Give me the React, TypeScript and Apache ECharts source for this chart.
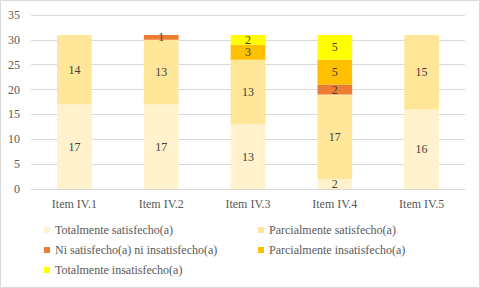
import React, { useEffect, useRef } from "react";
import * as echarts from "echarts";

const categories = ["Item IV.1", "Item IV.2", "Item IV.3", "Item IV.4", "Item IV.5"];
const seriesNames = [
  "Totalmente satisfecho(a)",
  "Parcialmente satisfecho(a)",
  "Ni satisfecho(a) ni insatisfecho(a)",
  "Parcialmente insatisfecho(a)",
  "Totalmente insatisfecho(a)",
];
const totSatisfecho = [17, 17, 13, 2, 16];
const parSatisfecho = [14, 13, 13, 17, 15];
const niNi = [0, 1, 0, 2, 0];
const parInsatisfecho = [0, 0, 3, 5, 0];
const totInsatisfecho = [0, 0, 2, 5, 0];
const colors = ["#FFF2CC", "#FFE699", "#ED7D31", "#FFC000", "#FFFF00"];

const FONT = "serif";

export default function App() {
  const ref = useRef<HTMLDivElement>(null);
  useEffect(() => {
    document.body.style.margin = "0";
    if (!ref.current) return;
    const chart = echarts.init(ref.current, undefined, { renderer: "svg" });
    const values = [totSatisfecho, parSatisfecho, niNi, parInsatisfecho, totInsatisfecho];
    const legendText = { fontFamily: FONT, fontSize: 12, color: "#595959" };
    chart.setOption({
      animation: false,
      textStyle: { fontFamily: FONT },
      grid: { left: 31, right: 15, top: 15, bottom: 99, containLabel: false },
      graphic: [
        {
          type: "rect",
          shape: { x: 0.5, y: 0.5, width: 479, height: 287 },
          style: { fill: "none", stroke: "#d9d9d9", lineWidth: 1 },
          silent: true,
        },
      ],
      legend: [
        {
          left: 44,
          top: 224,
          padding: 0,
          orient: "vertical",
          itemGap: 8,
          itemWidth: 6,
          itemHeight: 6,
          icon: "rect",
          data: [seriesNames[0], seriesNames[2], seriesNames[4]],
          textStyle: legendText,
        },
        {
          left: 258,
          top: 224,
          padding: 0,
          orient: "vertical",
          itemGap: 8,
          itemWidth: 6,
          itemHeight: 6,
          icon: "rect",
          data: [seriesNames[1], seriesNames[3]],
          textStyle: legendText,
        },
      ],
      xAxis: {
        type: "category",
        data: categories,
        axisLine: { lineStyle: { color: "#d9d9d9" } },
        axisTick: { show: false },
        axisLabel: { fontFamily: FONT, fontSize: 12, color: "#595959", margin: 9 },
      },
      yAxis: {
        type: "value",
        min: 0,
        max: 35,
        interval: 5,
        axisLine: { show: false },
        axisTick: { show: false },
        axisLabel: { fontFamily: FONT, fontSize: 12, color: "#595959", margin: 11 },
        splitLine: { lineStyle: { color: "#d9d9d9" } },
      },
      series: seriesNames.map((name, i) => ({
        name,
        type: "bar",
        stack: "total",
        barWidth: "40%",
        itemStyle: { color: colors[i] },
        data: values[i].map((v) => (v === 0 ? null : v)),
        label: {
          show: true,
          position: "inside",
          fontFamily: FONT,
          fontSize: 12,
          lineHeight: 10,
          color: "#404040",
          formatter: (p: any) => (p.value ? String(p.value) : ""),
        },
      })),
    });
    return () => chart.dispose();
  }, []);
  return <div ref={ref} style={{ width: 480, height: 288 }} />;
}
